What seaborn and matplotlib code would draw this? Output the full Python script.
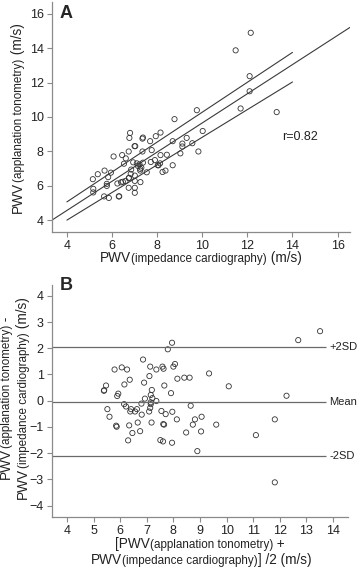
import seaborn as sns
import matplotlib
matplotlib.use("Agg")
import matplotlib.pyplot as plt
import pandas as pd

# panel A: impedance cardiography (x) vs applanation tonometry (y), m/s
pwv_ic = [12.15, 11.48, 12.10, 12.10, 11.70, 13.30, 9.76, 8.77, 10.02, 9.31,
          8.69, 9.12, 9.12, 9.56, 9.83, 9.03, 8.43, 8.69,
          6.80, 6.77, 7.35, 7.37, 7.00, 7.03, 6.74, 6.45, 6.61, 6.07, 7.35, 7.76,
          7.69, 7.94, 8.15, 6.53, 6.94, 7.10, 7.15, 7.22, 7.37, 7.25, 7.25, 6.85,
          6.83, 7.54, 7.72, 7.90, 8.03, 8.06, 8.13, 8.15, 8.24, 8.37, 7.01, 7.01,
          7.26, 6.74, 6.76, 6.60, 6.48, 6.24, 7.01, 6.74, 7.01, 6.30, 6.32, 5.86,
          5.65, 5.77, 5.77, 5.83, 5.95, 5.67, 5.37, 5.15, 5.17, 5.17, 6.40, 7.30]
pwv_at = [14.89, 13.87, 12.37, 11.49, 10.49, 10.28, 10.39, 9.87, 9.18, 8.78,
          8.59, 8.45, 8.28, 8.47, 7.99, 7.88, 7.80, 7.19,
          9.07, 8.78, 8.74, 8.80, 8.30, 8.30, 7.99, 7.78, 7.59, 7.70, 7.99, 8.07,
          8.59, 8.88, 9.09, 7.28, 7.36, 7.30, 7.15, 7.24, 7.34, 6.98, 6.88, 6.94,
          6.69, 6.78, 7.38, 7.49, 7.19, 7.19, 7.30, 7.78, 6.80, 6.88, 6.59, 6.28,
          6.21, 6.44, 6.46, 6.28, 6.23, 6.13, 5.88, 5.88, 5.59, 5.38, 5.38, 5.29,
          5.38, 6.11, 5.99, 6.50, 6.76, 6.88, 6.67, 6.38, 5.82, 5.61, 6.20, 7.05]

fit_intercept = 1.17
fit_slope = 0.848
band_x = [4, 14]
band_upper = [5.06, 13.75]
band_lower = [4.00, 12.03]
r_text = "r=0.82"

# panel B: Bland-Altman
ba_mean = [13.51, 12.69, 12.25, 11.81, 11.81, 11.10, 10.08, 9.34, 9.61, 9.06,
           9.04, 8.90, 8.81, 8.73, 8.65, 8.61, 8.41, 8.48, 8.15, 8.13,
           8.06, 8.00, 7.95, 7.79, 7.96, 7.91, 7.95, 7.61, 7.51, 7.55,
           7.71, 7.65, 7.62, 7.66, 7.63, 7.59, 7.36, 7.36, 7.21, 7.19,
           7.15, 7.15, 7.13, 7.18, 7.15, 7.09, 7.10, 7.13, 6.90, 6.93,
           6.86, 6.80, 6.81, 6.75, 6.66, 6.63, 6.56, 6.46, 6.41, 6.38,
           6.36, 6.34, 6.30, 6.26, 6.22, 6.15, 6.16, 6.06, 5.93, 5.89,
           5.85, 5.87, 5.79, 5.60, 5.52, 5.47, 5.39, 5.40]
ba_diff = [2.65, 2.31, 0.19, -0.71, -3.11, -1.31, 0.55, 1.04, -0.91, -0.61,
           -1.17, -1.92, -0.71, -0.91, -0.19, 0.88, 0.88, -1.21, 0.84, -0.71,
           1.40, 1.30, 2.21, 1.96, -0.42, 0.29, -1.60, -1.55, -1.50, -0.39,
           -0.51, -0.91, -0.89, 0.58, 1.22, 1.30, 1.19, -0.01, 0.10, 0.41,
           0.22, -0.06, -0.27, -0.83, -0.13, -0.41, 0.94, 1.30, 0.69, 0.08,
           1.57, -0.11, -0.53, -1.16, -0.83, -0.32, -0.41, -1.23, -0.32, -0.41,
           0.80, -0.94, -1.51, 1.19, -0.22, -0.13, 0.62, 1.27, 0.27, 0.18,
           -0.95, -0.99, 1.19, -0.61, -0.32, 0.58, 0.38, 0.40]
loa_values = [2.03, -0.03, -2.09]
loa_labels = ["+2SD", "Mean", "-2SD"]

W, H = 358, 567
sns.set_style("ticks")
plt.rcParams["font.family"] = ["Liberation Sans", "DejaVu Sans"]
plt.rcParams["axes.edgecolor"] = "#8a8a8a"
plt.rcParams["xtick.color"] = "#8a8a8a"
plt.rcParams["ytick.color"] = "#8a8a8a"
plt.rcParams["xtick.labelcolor"] = "#222222"
plt.rcParams["ytick.labelcolor"] = "#222222"

fig = plt.figure(figsize=(W / 100, H / 100), dpi=100)
axA = fig.add_axes([52 / W, 1 - 232 / H, 298 / W, 230 / H])
axB = fig.add_axes([52 / W, 1 - 517 / H, 296 / W, 232 / H])

BIG, SMALL, TICK = 9.8, 8.4, 9.0
pt_style = dict(facecolor="none", edgecolor="#333333", s=14, linewidth=0.6)
line_col = "#3a3a3a"


def mixed_label(cx, cy, parts, rotation=0):
    # pieces of text with different sizes, centred on (cx, cy) in pixels from top-left
    r = fig.canvas.get_renderer()
    widths = []
    for s, fs in parts:
        t = fig.text(0, 0, s, fontsize=fs)
        widths.append(t.get_window_extent(r).width)
        t.remove()
    pos = -sum(widths) / 2
    for (s, fs), w in zip(parts, widths):
        if rotation == 0:
            fig.text((cx + pos) / W, 1 - cy / H, s, fontsize=fs, color="#222222",
                     ha="left", va="baseline")
        else:
            fig.text(cx / W, (H - cy + pos) / H, s, fontsize=fs, color="#222222",
                     ha="left", va="baseline", rotation=90, rotation_mode="anchor")
        pos += w


# ---- panel A
dfA = pd.DataFrame({"ic": pwv_ic, "at": pwv_at})
sns.scatterplot(data=dfA, x="ic", y="at", ax=axA, **pt_style)
axA.axline((0, fit_intercept), slope=fit_slope, color=line_col, lw=0.8)
axA.plot(band_x, band_upper, color=line_col, lw=0.8)
axA.plot(band_x, band_lower, color=line_col, lw=0.8)
axA.set_xlim(3.34, 16.55)
axA.set_ylim(3.31, 16.68)
axA.set_xticks([4, 6, 8, 10, 12, 14, 16])
axA.set_yticks([4, 6, 8, 10, 12, 14, 16])
axA.text(13.56, 8.84, r_text, fontsize=TICK, va="center", ha="left", color="#222222")
axA.set_xlabel("")
axA.set_ylabel("")
fig.text(60 / W, 1 - 5 / H, "A", fontsize=13, fontweight="bold", va="top", ha="left")

# ---- panel B
dfB = pd.DataFrame({"mean": ba_mean, "diff": ba_diff})
sns.scatterplot(data=dfB, x="mean", y="diff", ax=axB, **pt_style)
for v, lab in zip(loa_values, loa_labels):
    axB.hlines(v, 3.44, 13.72, color="#6a6a6a", lw=0.9)
    axB.text(13.86, v, lab, fontsize=8.0, va="center", ha="left", color="#222222")
axB.set_xlim(3.44, 14.56)
axB.set_ylim(-4.43, 4.41)
axB.set_xticks(range(4, 15))
axB.set_yticks(range(-4, 5))
axB.set_xlabel("")
axB.set_ylabel("")
fig.text(60 / W, 1 - 277 / H, "B", fontsize=13, fontweight="bold", va="top", ha="left")

for ax in (axA, axB):
    sns.despine(ax=ax)
    ax.tick_params(labelsize=TICK, length=3.5, width=0.8, pad=2.5)
    for sp in ax.spines.values():
        sp.set_linewidth(0.9)

mixed_label(201, 262, [("PWV", BIG), ("(impedance cardiography)", SMALL), (" (m/s)", BIG)])
mixed_label(22, 118, [("PWV", BIG), ("(applanation tonometry)", SMALL), (" (m/s)", BIG)], rotation=90)
mixed_label(200, 548, [("[PWV", BIG), ("(applanation tonometry)", SMALL), (" +", BIG)])
mixed_label(201, 564, [("PWV", BIG), ("(impedance cardiography)", SMALL), ("] /2 (m/s)", BIG)])
mixed_label(10, 398, [("PWV", BIG), ("(applanation tonometry)", SMALL), (" -", BIG)], rotation=90)
mixed_label(27, 398, [("PWV", BIG), ("(impedance cardiography)", SMALL), (" (m/s)", BIG)], rotation=90)

fig.savefig("out.png", dpi=100)
